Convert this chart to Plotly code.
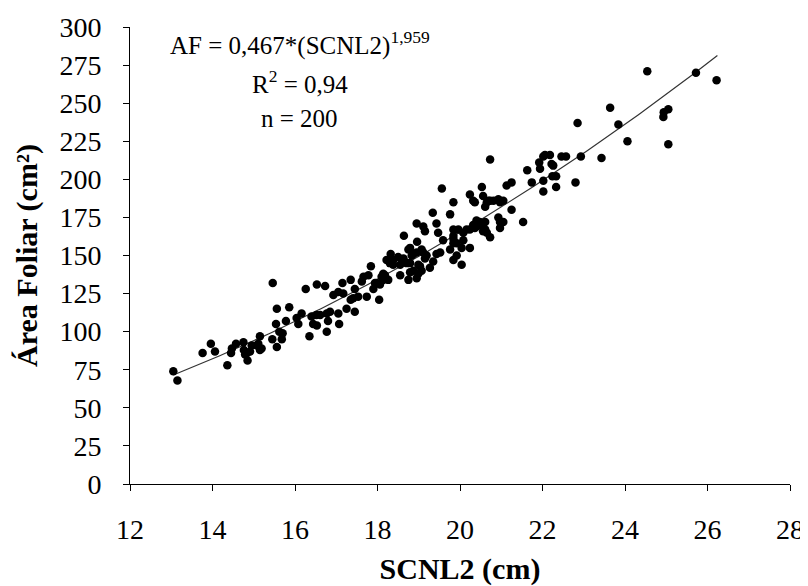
import numpy as np
import plotly.graph_objects as go

# SCNL2 (cm) and leaf area (cm²)
scnl2 = [
    13.05, 13.15, 13.76, 13.96, 14.06, 14.36, 14.45, 14.47, 14.57, 14.75, 14.76, 14.84, 14.85, 14.79, 14.91, 14.95,
    15.07, 15.15, 15.15, 15.11, 15.19,
    15.46, 15.56, 15.86, 15.45, 15.56, 15.54, 15.68, 15.70, 15.78, 15.62,
    16.04, 16.08, 16.16, 16.26, 16.35, 16.40, 16.53, 16.53, 16.44, 16.61, 16.73, 16.77, 16.77, 16.80, 16.52, 16.85, 16.93,
    17.05, 17.07, 17.05, 17.15, 17.17, 17.25, 17.35, 17.35, 17.41, 17.45, 17.45, 17.53, 17.62, 17.66, 17.74, 17.78,
    17.84, 17.90, 17.94, 17.98,
    18.04, 18.06, 18.10, 18.14, 18.14, 18.18, 18.26, 18.22, 18.30, 18.32, 18.38, 18.38, 18.50, 18.55, 18.55, 18.64,
    18.63, 18.71, 18.75, 18.75, 18.79, 18.79, 18.79, 18.83, 18.87, 18.87, 18.95, 18.96, 18.95, 18.95, 18.99, 18.99,
    19.03, 19.07, 19.07, 19.11, 19.11, 19.15, 19.15, 19.19, 19.27, 19.34, 19.35, 19.43, 19.43, 19.47, 19.52, 19.56,
    19.59, 19.76, 19.76, 19.84, 19.84, 19.84, 19.84, 19.84, 19.84, 19.92, 19.92, 19.96,
    20.04, 20.04, 20.08, 20.08, 20.16, 20.24, 20.24, 20.24, 20.32, 20.32, 20.36, 20.36, 20.40, 20.40, 20.48, 20.48,
    20.53, 20.56, 20.56, 20.61, 20.61, 20.61, 20.65, 20.65, 20.69, 20.73, 20.73, 20.73, 20.81, 20.93, 20.93, 20.97,
    20.97, 20.97,
    21.05, 21.05, 21.13, 21.25, 21.25, 21.53, 21.63, 21.74, 21.92, 21.94,
    22.02, 22.02, 22.02, 22.06, 22.18, 22.22, 22.26, 22.24, 22.33, 22.33, 22.46, 22.57, 22.80, 22.85, 22.93,
    23.43, 23.64, 23.84, 24.06, 24.54, 24.93, 24.94, 25.05, 25.05, 25.72, 26.22,
]
area = [
    74, 68, 86, 92, 87, 78, 86, 89, 92, 93, 88, 86, 81, 85, 87, 91,
    91, 97, 88, 92, 89,
    132, 115, 116, 95, 90, 105, 95, 99, 107, 100,
    109, 105, 112, 128, 97, 110, 131, 104, 105, 111, 130, 100, 112, 107, 111, 113, 124,
    112, 105, 126, 132, 125, 115, 134, 121, 122, 128, 113, 123, 133, 136, 123, 137,
    143, 128, 132, 132,
    121, 131, 136, 134, 138, 137, 134, 147, 145, 151, 147, 144, 149, 144, 137, 163,
    148, 145, 154, 134, 145, 155, 139, 150, 140, 151, 171, 159, 135, 152, 138, 144,
    143, 154, 140, 169, 152, 166, 148, 150, 142, 178, 146, 151, 171, 165, 152, 194,
    160, 177, 154, 185, 167, 163, 161, 158, 147, 158, 150, 167,
    144, 155, 165, 160, 167, 190, 167, 155, 170, 186, 185, 168, 169, 173, 170, 172,
    195, 189, 166, 182, 172, 167, 185, 165, 186, 213, 186, 162, 186, 187, 175, 185,
    172, 168,
    186, 172, 196, 198, 180, 172, 206, 198, 211, 207,
    199, 192, 215, 216, 216, 210, 209, 202, 195, 202, 215, 215, 198, 237, 215,
    214, 247, 236, 225, 271, 241, 244, 246, 223, 270, 265,
]

# fitted power model shown on the chart
coef_a = 0.467
coef_b = 1.959
fit_x_start = 13.05
fit_x_end = 26.24

x_tick_vals = [12, 14, 16, 18, 20, 22, 24, 26, 28]
y_tick_vals = [0, 25, 50, 75, 100, 125, 150, 175, 200, 225, 250, 275, 300]

fx = np.linspace(fit_x_start, fit_x_end, 200)
fy = coef_a * fx ** coef_b

serif = "Liberation Serif"

fig = go.Figure()
fig.add_trace(go.Scatter(
    x=fx, y=fy, mode="lines",
    line=dict(color="#333333", width=1.2),
    hoverinfo="skip", showlegend=False,
))
fig.add_trace(go.Scatter(
    x=scnl2, y=area, mode="markers",
    marker=dict(color="black", size=8.5, line=dict(width=0)),
    showlegend=False,
))

ann_font = dict(family=serif, size=25, color="black")
fig.add_annotation(x=16.12, y=289, xref="x", yref="y", showarrow=False,
                   text="AF = 0,467*(SCNL2)<sup>1,959</sup>", font=ann_font)
fig.add_annotation(x=16.12, y=264, xref="x", yref="y", showarrow=False,
                   text="R<sup>2</sup> = 0,94", font=ann_font)
fig.add_annotation(x=16.12, y=240, xref="x", yref="y", showarrow=False,
                   text="n = 200", font=ann_font)

fig.update_layout(
    width=800, height=578,
    margin=dict(l=122, r=18, t=19, b=102),
    paper_bgcolor="white", plot_bgcolor="white",
    font=dict(family=serif, color="black"),
)
fig.update_xaxes(
    range=[12, 28], tickvals=x_tick_vals, showgrid=False, zeroline=False,
    showline=True, linecolor="black", linewidth=1, automargin=False,
    ticks="outside", ticklen=6, tickcolor="black", ticklabelstandoff=14,
    tickfont=dict(family=serif, size=28, color="black"),
    title=dict(text="<b>SCNL2 (cm)</b>", font=dict(family=serif, size=30, color="black"), standoff=16),
)
fig.update_yaxes(
    range=[0, 300], tickvals=y_tick_vals, showgrid=False, zeroline=False,
    showline=True, linecolor="black", linewidth=1, automargin=False,
    ticks="outside", ticklen=6, tickcolor="black", ticklabelstandoff=16,
    tickfont=dict(family=serif, size=28, color="black"),
    title=dict(text="<b>Área Foliar (cm²)</b>", font=dict(family=serif, size=30, color="black"), standoff=12),
)

fig.write_html("out.html")
